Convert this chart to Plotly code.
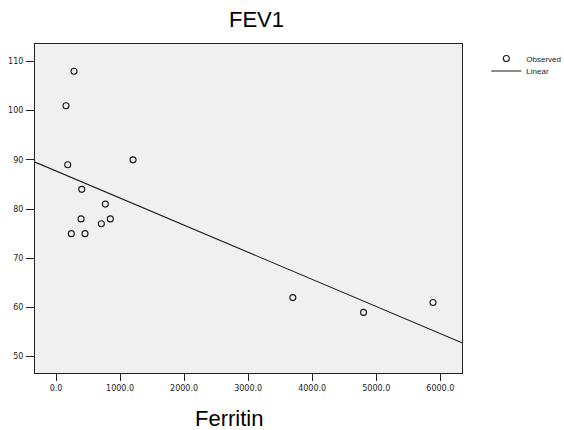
import numpy as np
import plotly.graph_objects as go

ferritin = [281, 156, 183, 402, 770, 391, 848, 708, 239, 453, 1203, 3698, 4802, 5886]
fev1 = [108, 101, 89, 84, 81, 78, 78, 77, 75, 75, 90, 62, 59, 61]
x_ticks = [0, 1000, 2000, 3000, 4000, 5000, 6000]
x_tick_labels = ["0.0", "1000.0", "2000.0", "3000.0", "4000.0", "5000.0", "6000.0"]
y_ticks = [50, 60, 70, 80, 90, 100, 110]
x_range = [-328, 6339]
y_range = [46.68, 113.54]

slope, intercept = np.polyfit(ferritin, fev1, 1)
line_x = np.array(x_range, dtype=float)
line_y = intercept + slope * line_x

fig = go.Figure()
fig.add_trace(go.Scatter(
    x=ferritin, y=fev1, mode="markers", name="Observed", legend="legend",
    marker=dict(symbol="circle-open", size=6, color="#1a1a1a", line=dict(width=1.1, color="#1a1a1a")),
))
fig.add_trace(go.Scatter(
    x=line_x, y=line_y, mode="lines", name="Linear", legend="legend2",
    line=dict(color="#1a1a1a", width=1.1),
))

legend_font = dict(family="Liberation Sans", size=8, color="#222")
fig.update_layout(
    width=564, height=430,
    margin=dict(l=35, r=102, t=44, b=57, autoexpand=False),
    paper_bgcolor="white", plot_bgcolor="#f0f0f0",
    font=dict(family="DejaVu Sans", size=8, color="#222"),
    showlegend=True,
    legend=dict(x=1.057, y=1.0, xanchor="left", yanchor="top", font=legend_font,
                bgcolor="rgba(0,0,0,0)", itemwidth=30),
    legend2=dict(x=1.057, y=0.962, xanchor="left", yanchor="top", font=legend_font,
                 bgcolor="rgba(0,0,0,0)", itemwidth=30),
    annotations=[
        dict(text="FEV1", x=0.518, y=1.073, xref="paper", yref="paper", showarrow=False,
             xanchor="center", yanchor="middle", font=dict(family="Liberation Sans", size=22, color="black")),
        dict(text="Ferritin", x=0.4547, y=-0.137, xref="paper", yref="paper", showarrow=False,
             xanchor="center", yanchor="middle", font=dict(family="Liberation Sans", size=22, color="black")),
    ],
)
fig.update_xaxes(range=x_range, tickvals=x_ticks, ticktext=x_tick_labels, showgrid=False, zeroline=False,
                 showline=True, linecolor="#222", linewidth=1, mirror=True,
                 ticks="outside", ticklen=7, tickcolor="#222", tickwidth=1)
fig.update_yaxes(range=y_range, tickvals=y_ticks, showgrid=False, zeroline=False,
                 showline=True, linecolor="#222", linewidth=1, mirror=True,
                 ticks="outside", ticklen=8, tickcolor="#222", tickwidth=1, ticklabelstandoff=1)

fig.write_html("out.html")
